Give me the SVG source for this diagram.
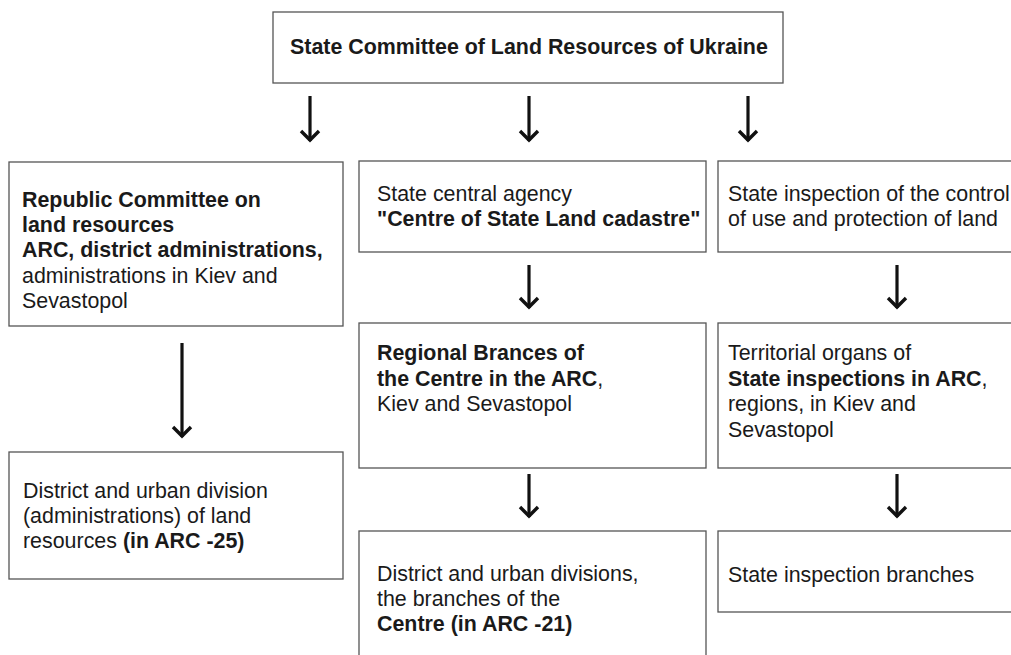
<svg xmlns="http://www.w3.org/2000/svg" width="1011" height="655" viewBox="0 0 1011 655">
<defs>
<marker id="ah" viewBox="0 0 24 24" refX="13" refY="12" markerWidth="24" markerHeight="24" markerUnits="userSpaceOnUse" orient="auto">
<path d="M3,3 L12,12 L3,21" fill="none" stroke="#111" stroke-width="3.4"/>
</marker>
</defs>
<style>
.box{fill:#fff;stroke:#555;stroke-width:1.3}
.t{font-family:"Liberation Sans",Arial,sans-serif;font-size:21.4px;fill:#1a1a1a}
.b{font-weight:bold}
.arr{stroke:#111;stroke-width:3.2;fill:none;marker-end:url(#ah)}
</style>
<rect width="1011" height="655" fill="#fff"/>
<g id="connectors">
<line class="arr" x1="310" y1="96" x2="310" y2="141"/>
<line class="arr" x1="529" y1="96" x2="529" y2="141"/>
<line class="arr" x1="748" y1="96" x2="748" y2="141"/>
<line class="arr" x1="182" y1="343" x2="182" y2="437"/>
<line class="arr" x1="529" y1="265" x2="529" y2="308"/>
<line class="arr" x1="897" y1="265" x2="897" y2="308"/>
<line class="arr" x1="529" y1="474" x2="529" y2="517"/>
<line class="arr" x1="897" y1="474" x2="897" y2="517"/>
</g>
<g id="n-top">
<rect class="box" x="273" y="12" width="510" height="71"/>
<text class="t b" x="290" y="54">State Committee of Land Resources of Ukraine</text>
</g>
<g id="n-republic">
<rect class="box" x="9" y="162" width="334" height="164"/>
<text class="t" x="22" y="207"><tspan class="b">Republic Committee on</tspan><tspan x="22" y="232" class="b">land resources</tspan><tspan x="22" y="257" class="b">ARC, district administrations,</tspan><tspan x="22" y="283">administrations in Kiev and</tspan><tspan x="22" y="308">Sevastopol</tspan></text>
</g>
<g id="n-centre">
<rect class="box" x="359" y="161" width="347" height="91"/>
<text class="t" x="377" y="201">State central agency<tspan x="377" y="226" class="b">"Centre of State Land cadastre"</tspan></text>
</g>
<g id="n-inspection">
<rect class="box" x="718" y="161" width="320" height="91"/>
<text class="t" x="728" y="201">State inspection of the control<tspan x="728" y="226">of use and protection of land</tspan></text>
</g>
<g id="n-district-left">
<rect class="box" x="9" y="452" width="334" height="127"/>
<text class="t" x="23" y="498">District and urban division<tspan x="23" y="523">(administrations) of land</tspan><tspan x="23" y="548">resources <tspan class="b">(in ARC -25)</tspan></tspan></text>
</g>
<g id="n-regional">
<rect class="box" x="359" y="323" width="347" height="145"/>
<text class="t" x="377" y="360"><tspan class="b">Regional Brances of</tspan><tspan x="377" y="386" class="b">the Centre in the ARC</tspan>,<tspan x="377" y="411">Kiev and Sevastopol</tspan></text>
</g>
<g id="n-territorial">
<rect class="box" x="718" y="323" width="320" height="145"/>
<text class="t" x="728" y="360">Territorial organs of<tspan x="728" y="386" class="b">State inspections in ARC</tspan>,<tspan x="728" y="411">regions, in Kiev and</tspan><tspan x="728" y="437">Sevastopol</tspan></text>
</g>
<g id="n-district-centre">
<rect class="box" x="359" y="531" width="347" height="140"/>
<text class="t" x="377" y="581">District and urban divisions,<tspan x="377" y="606">the branches of the</tspan><tspan x="377" y="631" class="b">Centre (in ARC -21)</tspan></text>
</g>
<g id="n-branches">
<rect class="box" x="718" y="531" width="320" height="81"/>
<text class="t" x="728" y="582">State inspection branches</text>
</g>
</svg>
